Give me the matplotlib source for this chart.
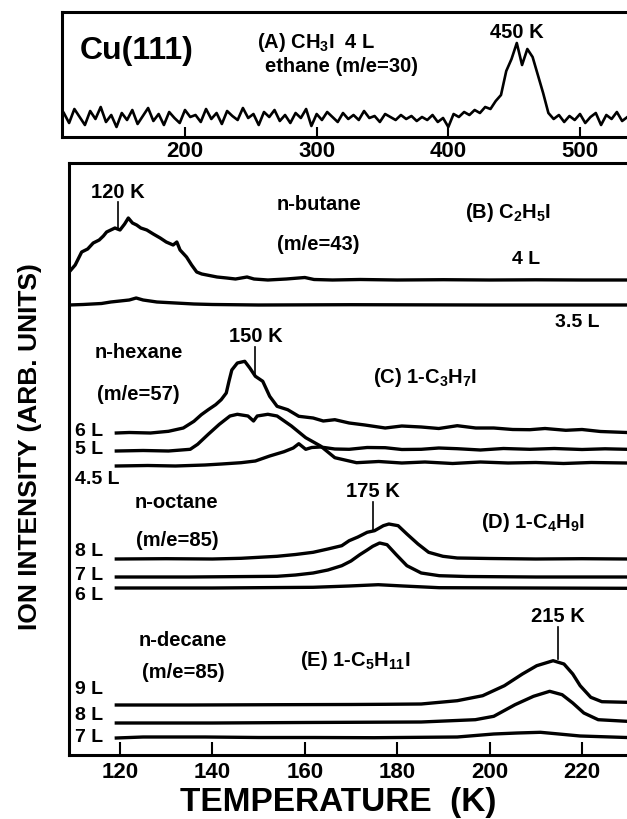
import numpy as np
import matplotlib
matplotlib.use("Agg")
import matplotlib.pyplot as plt

plt.rcParams['font.family'] = ['Liberation Sans', 'DejaVu Sans']
plt.rcParams['font.weight'] = 'bold'
plt.rcParams['mathtext.fontset'] = 'custom'
plt.rcParams['mathtext.rm'] = 'Liberation Sans:bold'
plt.rcParams['mathtext.it'] = 'Liberation Sans:bold'
plt.rcParams['mathtext.bf'] = 'Liberation Sans:bold'

# ---- (A) CH3I, ethane m/e=30, 4 K scan grid ----
ethane_T = np.arange(108, 537, 4)
ethane_I = [24, 14, 28, 20, 12, 26, 18, 30, 15, 22,
            10, 24, 17, 27, 13, 21, 29, 16, 23, 12,
            25, 19, 14, 27, 20, 22, 15, 28, 18, 24,
            13, 26, 21, 17, 29, 19, 23, 12, 25, 20,
            27, 16, 22, 14, 24, 19, 28, 11, 23, 17,
            25, 20, 15, 24, 18, 22, 17, 26, 19, 21,
            15, 23, 20, 17, 22, 18, 21, 16, 20, 17,
            22, 15, 19, 10, 23, 20, 25, 22, 27, 24,
            30, 28, 36, 42, 66, 78, 94, 72, 88, 80,
            62, 44, 24, 18, 22, 15, 21, 17, 23, 14,
            20, 24, 12, 22, 18, 25, 16, 20]
top_ticks = [200, 300, 400, 500]

# ---- (B) C2H5I, n-butane ----
butane_4L_T = [109.0, 110.3, 111.7, 113.0, 114.2, 115.5, 116.4, 117.1, 118.9, 120.0,
               121.0, 121.8, 122.7, 123.6, 124.5, 125.8, 127.2, 128.7, 130.0, 131.5,
               132.3, 133.0, 134.4, 135.5, 136.6, 137.7, 138.8, 141.0, 143.1, 145.0,
               147.5, 149.0, 152.0, 156.0, 160.0, 162.0, 166.0, 172.0, 180.0, 190.0,
               200.0, 210.0, 220.0, 230.0]
butane_4L_I = [8, 15, 28, 31, 37, 40, 44, 48, 52, 50,
               56, 62, 57, 55, 52, 50, 46, 42, 38, 35,
               38, 30, 23, 15, 8, 6, 5, 3, 2, 1,
               3, 1, 0, 1, 2.5, 0.5, 0, 0.5, 0, 0.3,
               0, 0.2, 0, 0]
butane_35L_T = [108.9, 112, 116, 118, 120, 122, 123.5, 125, 128, 132, 136, 140, 150, 170, 200, 230]
butane_35L_I = [0, 0.5, 1.5, 3, 4, 5, 7, 5, 3, 2, 1, 0.5, 0, 0.3, 0, 0]

# ---- (C) 1-C3H7I, n-hexane ----
hexane_6L_T = [119.2, 122, 126.6, 130.5, 133.7, 136.0, 137.6, 139.1, 140.7, 141.9,
               143.0, 143.6, 144.2, 145.4, 147.0, 148.1, 149.3, 150.9, 152.4, 154.0,
               156.3, 158.7, 161.8, 164, 166.5, 169.6, 173, 177.4, 181, 185.2,
               189, 193.0, 197, 200.9, 205, 208.7, 212, 216.5, 220, 224, 229.7]
hexane_6L_I = [0, 0.5, 0, 1.7, 5, 11.7, 18.3, 23.3, 28.3, 33.3,
               40, 52, 63, 70, 71.7, 65, 56.7, 51.7, 36.7, 26.7,
               23.3, 16.7, 15, 12, 13.3, 10, 8, 5, 7, 6,
               4.5, 7.3, 5, 5, 3.5, 3.3, 4.5, 2.7, 3.5, 1.5, 0.5]
hexane_5L_T = [119.2, 125, 130.5, 135.2, 136.8, 139.1, 141.5, 143.8, 145.4, 147.7,
               148.9, 149.7, 152.0, 154.0, 157.1, 160.2, 163.4, 166.5, 171.2, 176,
               181, 186, 192, 198, 204, 210, 216, 222, 229.7]
hexane_5L_I = [0, 0.5, 0, 1.7, 6.7, 16.7, 26.7, 35, 36.7, 35,
               30, 35, 36.7, 35, 25, 13.3, 5, -6.7, -11.7, -10.5,
               -12, -11, -12.5, -11, -12, -11.5, -12.5, -11.5, -12]
hexane_45L_T = [119.2, 126, 132, 138.4, 142, 146.2, 149.3, 152.4, 155.5, 157.5,
                158.7, 160.2, 161.5, 163.4, 166.5, 169.6, 173.5, 177.4, 181, 185.2,
                189, 193, 198, 203, 208.7, 214, 220, 225, 229.7]
hexane_45L_I = [0, 0.5, 0, 1, 2, 3.3, 5, 10, 14.3, 18,
                22.3, 16.7, 18.5, 19, 17, 16.7, 18.5, 18.3, 16.5, 16.7,
                18, 17.3, 16, 17.5, 16.7, 17.5, 16.5, 17.2, 16.7]

# ---- (D) 1-C4H9I, n-octane ----
octane_8L_T = [119.2, 130, 140, 146.2, 154.0, 158, 161.8, 165, 168.0, 169.6,
               171.5, 173.5, 175.1, 177.0, 178.2, 180.2, 182.1, 184.5, 186.8, 189.9,
               193.0, 200, 210, 220, 229.7]
octane_8L_I = [0, 0.3, 0, 0.7, 2.7, 4.5, 6.7, 10, 13.3, 18.3,
               22, 26.7, 28.3, 33.3, 35, 33.3, 25, 15, 6.7, 2.7,
               1, 0.5, 0, 0.3, 0]
octane_7L_T = [119.2, 135, 154.0, 158, 161.8, 165, 168.0, 170, 171.9, 173.5,
               174.7, 176.2, 177.8, 179.8, 182.1, 185.2, 189.1, 195, 210, 229.7]
octane_7L_I = [0, 0, 0.7, 2, 4, 7, 11.3, 16, 22.3, 27,
               30.7, 34, 32.3, 22.3, 11.3, 4, 1.3, 0.5, 0, 0]
octane_6L_T = [119.2, 140, 161.8, 169.6, 175.9, 181.3, 189.1, 229.7]
octane_6L_I = [0, 0, 0.7, 2, 3.3, 2, 0.3, -0.3]

# ---- (E) 1-C5H11I, n-decane ----
decane_9L_T = [119.2, 135, 154.0, 170, 177.4, 185.2, 193.0, 198.5, 203.2, 207.1,
               210.2, 213.75, 216.1, 218.0, 219.6, 221.9, 224.3, 229.7]
decane_9L_I = [0, 0, 0.3, 0.5, 0.7, 1, 4.3, 9.3, 19.3, 31,
               39.3, 44.3, 41, 31, 19.3, 7.7, 3.3, 2.7]
decane_8L_T = [119.2, 140, 160, 185.2, 196.9, 200.9, 205.5, 209.5, 213.0, 215.7,
               218.0, 220.4, 223.5, 229.7]
decane_8L_I = [0, 0, 0.5, 1, 3.3, 6.7, 18.3, 26.7, 31.7, 28.3,
               20, 10, 3.3, 1.7]
decane_7L_T = [119.2, 125, 138.4, 150, 161.8, 175, 193.0, 200.9, 206, 211.0, 215, 219.6, 229.7]
decane_7L_I = [0, 1, 1, 0.5, 0.5, 0.3, 1, 4, 5, 5.7, 4, 2, 0.5]

bottom_ticks = [120, 140, 160, 180, 200, 220]

# traces: (T, I, vertical offset, exposure label, label y)
traces = [
    (butane_4L_T, butane_4L_I, 475, None, None),
    (butane_35L_T, butane_35L_I, 450, None, None),
    (hexane_6L_T, hexane_6L_I, 322, "6 L", 323),
    (hexane_5L_T, hexane_5L_I, 304, "5 L", 305),
    (hexane_45L_T, hexane_45L_I, 289, "4.5 L", 275),
    (octane_8L_T, octane_8L_I, 196, "8 L", 203),
    (octane_7L_T, octane_7L_I, 178, "7 L", 180),
    (octane_6L_T, octane_6L_I, 167, "6 L", 160),
    (decane_9L_T, decane_9L_I, 50, "9 L", 65),
    (decane_8L_T, decane_8L_I, 32, "8 L", 40),
    (decane_7L_T, decane_7L_I, 17, "7 L", 18),
]

W, H = 627, 819
fig = plt.figure(figsize=(W / 100, H / 100), dpi=100)

# top panel
ax_top = fig.add_axes([62 / W, 1 - 137 / H, (W - 62) / W, 125 / H])
ax_top.plot(ethane_T, ethane_I, color='black', lw=1.9)
ax_top.set_xlim(106.6, 535.7)
ax_top.set_ylim(0, 125)
ax_top.set_xticks(top_ticks)
ax_top.set_yticks([])
ax_top.tick_params(axis='x', direction='in', length=7, width=1.5, labelsize=16, pad=3)
ax_top.spines['right'].set_visible(False)
for s in ['left', 'top', 'bottom']:
    ax_top.spines[s].set_linewidth(2.2)
ax_top.text(163.6, 86, "Cu(111)", fontsize=23, ha='center', va='center')
ax_top.text(300, 94, "(A) CH$_3$I  4 L", fontsize=14.5, ha='center', va='center')
ax_top.text(319, 70, "ethane (m/e=30)", fontsize=14.5, ha='center', va='center')
ax_top.text(452, 105, "450 K", fontsize=14.5, ha='center', va='center')

# lower panel
ax = fig.add_axes([69 / W, 1 - 755 / H, (W - 69) / W, 592 / H])
for T, I, off, lab, ly in traces:
    ax.plot(T, np.asarray(I) + off, color='black', lw=2.4, solid_joinstyle='round')
    if lab is not None:
        ax.text(110.2, ly, lab, fontsize=14, ha='left', va='center')
ax.set_xlim(108.96, 229.74)
ax.set_ylim(0, 592)
ax.set_xticks(bottom_ticks)
ax.set_yticks([])
ax.tick_params(axis='x', direction='in', length=9.5, width=1.5, labelsize=16, pad=5)
ax.spines['right'].set_visible(False)
for s in ['left', 'top', 'bottom']:
    ax.spines[s].set_linewidth(2.2)

# peak markers
for xk, y0, y1, lab in [(119.6, 526, 553, "120 K"), (149.3, 379, 408, "150 K"),
                        (174.7, 225, 253, "175 K"), (214.8, 96, 128, "215 K")]:
    ax.plot([xk, xk], [y0, y1], color='black', lw=1.2)
    ax.text(xk, y1 + 10, lab, fontsize=14.5, ha='center', va='center')

ax.text(163, 550, "n-butane", fontsize=14.5, ha='center', va='center')
ax.text(163, 510, "(m/e=43)", fontsize=14.5, ha='center', va='center')
ax.text(204, 542, "(B) C$_2$H$_5$I", fontsize=14.5, ha='center', va='center')
ax.text(208, 495, "4 L", fontsize=14, ha='center', va='center')
ax.text(219, 432, "3.5 L", fontsize=14, ha='center', va='center')

ax.text(124, 402, "n-hexane", fontsize=14.5, ha='center', va='center')
ax.text(124, 360, "(m/e=57)", fontsize=14.5, ha='center', va='center')
ax.text(186, 377, "(C) 1-C$_3$H$_7$I", fontsize=14.5, ha='center', va='center')

ax.text(132.3, 252, "n-octane", fontsize=14.5, ha='center', va='center')
ax.text(132.3, 215, "(m/e=85)", fontsize=14.5, ha='center', va='center')
ax.text(209.4, 232, "(D) 1-C$_4$H$_9$I", fontsize=14.5, ha='center', va='center')

ax.text(133.6, 115, "n-decane", fontsize=14.5, ha='center', va='center')
ax.text(133.6, 82, "(m/e=85)", fontsize=14.5, ha='center', va='center')
ax.text(171, 95, "(E) 1-C$_5$H$_{11}$I", fontsize=14.5, ha='center', va='center')

fig.text(338 / W, 1 - 802 / H, "TEMPERATURE  (K)", fontsize=24, ha='center', va='center')
fig.text(30 / W, 1 - 447 / H, "ION INTENSITY (ARB. UNITS)", fontsize=19, rotation=90,
         ha='center', va='center', family=['Liberation Sans Narrow', 'Liberation Sans'])

fig.savefig("out.png", dpi=100)
